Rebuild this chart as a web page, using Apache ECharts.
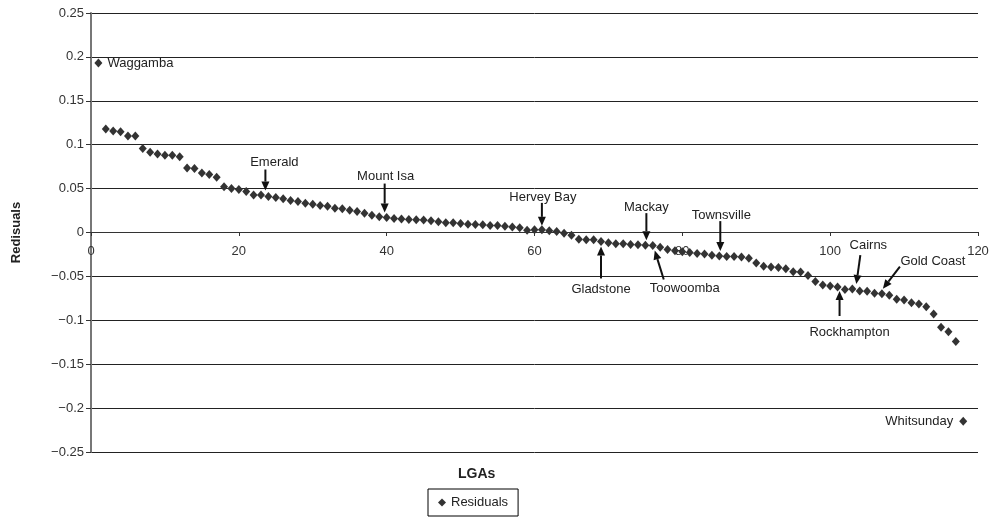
<!DOCTYPE html>
<html>
<head>
<meta charset="utf-8">
<script src="https://cdn.jsdelivr.net/npm/echarts@6/dist/echarts.min.js"></script>
<style>html,body{margin:0;padding:0;background:#fff}#c{width:998px;height:532px}</style>
</head>
<body>
<div id="c"></div>
<script>
// LGA index (1..118) and residuals
var lgaIndex = [];
for (var i = 1; i <= 118; i++) lgaIndex.push(i);
var residuals = [
 0.193, 0.118, 0.1156, 0.1148, 0.110, 0.110, 0.0958, 0.0913, 0.0894, 0.0879,
 0.0879, 0.0864, 0.0735, 0.073, 0.0678, 0.066, 0.0629, 0.052, 0.050, 0.0489,
 0.0466, 0.0428, 0.0428, 0.041, 0.0398, 0.0383, 0.0364, 0.0352, 0.0333, 0.0322,
 0.0307, 0.030, 0.0277, 0.027, 0.0254, 0.0239, 0.022, 0.0197, 0.0178, 0.017,
 0.0159, 0.0155, 0.0148, 0.0146, 0.0142, 0.0135, 0.0123, 0.011, 0.011, 0.0102,
 0.0095, 0.0091, 0.0087, 0.008, 0.008, 0.0072, 0.0064, 0.0053, 0.0027, 0.003,
 0.003, 0.0019, 0.0011, -0.0008, -0.003, -0.0076, -0.0083, -0.0083, -0.0102, -0.0117,
 -0.0127, -0.0129, -0.0136, -0.014, -0.0144, -0.0148, -0.0167, -0.0193, -0.0208, -0.022,
 -0.0227, -0.0239, -0.0246, -0.0258, -0.0269, -0.0273, -0.0273, -0.028, -0.0292, -0.0348,
 -0.0385, -0.0392, -0.040, -0.0413, -0.0447, -0.045, -0.0489, -0.0557, -0.0598, -0.061,
 -0.0621, -0.0648, -0.0644, -0.0667, -0.067, -0.0693, -0.0697, -0.0716, -0.0761, -0.0769,
 -0.0799, -0.0814, -0.0845, -0.0928, -0.108, -0.1129, -0.1242, -0.215
];
var xTicks = [0, 20, 40, 60, 80, 100, 120];
var yTicks = [-0.25, -0.2, -0.15, -0.1, -0.05, 0, 0.05, 0.1, 0.15, 0.2, 0.25];
var annotNames = ['Waggamba','Emerald','Mount Isa','Hervey Bay','Gladstone','Mackay','Toowoomba','Townsville','Rockhampton','Cairns','Gold Coast','Whitsunday'];
var annotIndex = [1, 24, 40, 61, 69, 75, 76, 85, 101, 103, 107, 118];

// layout of the annotations (pixel offsets relative to the point)
var annotLayout = {
 'Waggamba':   {t:[9,0], align:'left'},
 'Emerald':    {t:[6,-34], a:[[-3,-27],[-3,-6]]},
 'Mount Isa':  {t:[-1,-41], a:[[-2,-34],[-2,-5]]},
 'Hervey Bay': {t:[1,-32], a:[[0,-27],[0,-4]]},
 'Gladstone':  {t:[0,48], a:[[0,37],[0,5]]},
 'Mackay':     {t:[1,-38], a:[[1,-32],[1,-5]]},
 'Toowoomba':  {t:[32,43], a:[[11,34],[2,5]]},
 'Townsville': {t:[2,-41], a:[[1,-35],[1,-5]]},
 'Rockhampton':{t:[12,45], a:[[2,29],[2,4]]},
 'Cairns':     {t:[16,-44], a:[[8,-34],[4,-5]]},
 'Gold Coast': {t:[51,-32], a:[[18,-27],[1,-5]]},
 'Whitsunday': {t:[-10,0], align:'right'}
};

var pts = lgaIndex.map(function (x, i) { return [x, residuals[i]]; });
var FONT = '"Liberation Sans", Arial, sans-serif';

var chart = echarts.init(document.getElementById('c'), null, {renderer: 'canvas'});
chart.setOption({
  animation: false,
  backgroundColor: '#fff',
  grid: {left: 91, right: 20, top: 13, bottom: 80, containLabel: false},
  xAxis: {
    type: 'value', min: xTicks[0], max: xTicks[xTicks.length - 1], interval: 20,
    position: 'bottom', offset: -220,
    axisLine: {show: true, onZero: false, lineStyle: {color: '#333', width: 1}},
    axisTick: {show: true, length: 4, lineStyle: {color: '#333'}},
    axisLabel: {fontSize: 13, color: '#333', margin: 13, fontFamily: FONT},
    splitLine: {show: false}
  },
  yAxis: {
    type: 'value', min: yTicks[0], max: yTicks[yTicks.length - 1], interval: 0.05,
    name: 'Redisuals', nameLocation: 'middle', nameGap: 68,
    nameTextStyle: {fontSize: 13, fontWeight: 'bold', color: '#222', fontFamily: FONT},
    axisLine: {show: true, onZero: false, lineStyle: {color: '#777', width: 2}},
    axisTick: {show: true, length: 5, lineStyle: {color: '#333'}},
    axisLabel: {fontSize: 13, color: '#333', margin: 7, fontFamily: FONT,
      formatter: function (v) { var r = Math.round(v * 100) / 100; return String(r).replace('-', '\u2212'); }},
    splitLine: {show: true, lineStyle: {color: '#222', width: 1}}
  },
  legend: {
    data: ['Residuals'], left: 428, top: 489, icon: 'diamond',
    itemWidth: 8, itemHeight: 8, itemGap: 5,
    borderColor: '#000', borderWidth: 1, borderRadius: 0, padding: [7, 10],
    textStyle: {fontSize: 13, color: '#222', fontFamily: FONT}
  },
  series: [{
    name: 'Residuals', type: 'scatter', data: pts,
    symbol: 'diamond', symbolSize: [8, 9],
    itemStyle: {color: '#333', opacity: 1}, z: 5
  }]
});

var g = [];
g.push({type: 'text', left: 458, top: 467, style: {text: 'LGAs', font: 'bold 14px ' + FONT, fill: '#222'}});
annotNames.forEach(function (name, k) {
  var idx = annotIndex[k];
  var p = chart.convertToPixel({gridIndex: 0}, [idx, residuals[idx - 1]]);
  var L = annotLayout[name];
  g.push({type: 'text', x: p[0] + L.t[0], y: p[1] + L.t[1], z: 10,
    style: {text: name, font: '13px ' + FONT, fill: '#222', align: L.align || 'center', verticalAlign: 'middle'}});
  if (L.a) {
    var x1 = p[0] + L.a[0][0], y1 = p[1] + L.a[0][1], x2 = p[0] + L.a[1][0], y2 = p[1] + L.a[1][1];
    var ang = Math.atan2(y2 - y1, x2 - x1);
    var hl = 9, hw = 4;
    var bx = x2 - hl * Math.cos(ang), by = y2 - hl * Math.sin(ang);
    var nx = -Math.sin(ang), ny = Math.cos(ang);
    g.push({type: 'line', z: 10, shape: {x1: x1, y1: y1, x2: bx, y2: by}, style: {stroke: '#111', lineWidth: 2}});
    g.push({type: 'polygon', z: 10, shape: {points: [[x2, y2], [bx + nx * hw, by + ny * hw], [bx - nx * hw, by - ny * hw]]}, style: {fill: '#111'}});
  }
});
chart.setOption({graphic: g});
</script>
</body>
</html>
